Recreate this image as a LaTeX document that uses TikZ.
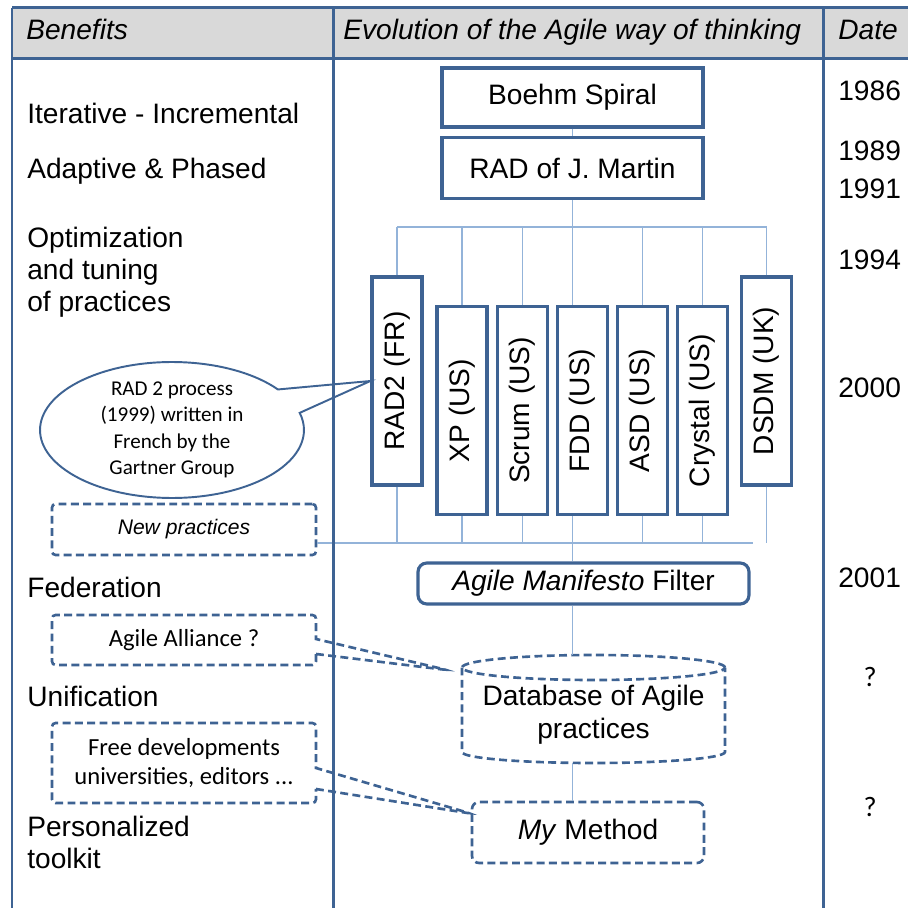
\documentclass[tikz,border=0pt]{standalone}
\usepackage{fontspec}
\setmainfont{Liberation Sans}
\newfontfamily\calibri{Carlito}
\usepackage{tikz}
\usetikzlibrary{positioning,shapes.geometric,shapes.misc,shapes.callouts}

\definecolor{frameblue}{HTML}{3E6393}
\definecolor{linkblue}{HTML}{93B3D9}
\definecolor{headgray}{HTML}{D9D9D9}

\newcommand{\bigsize}{\fontsize{16}{19}\selectfont}
\newcommand{\notesize}{\calibri\fontsize{14}{17}\selectfont}

\tikzset{
  frameline/.style={draw=frameblue, line width=1.7pt},
  solidbox/.style={draw=frameblue, line width=1.8pt, fill=white, inner sep=0pt, font=\bigsize},
  dashline/.style={draw=frameblue, line width=1.5pt, dash pattern=on 4.5pt off 2.5pt},
  dashbox/.style={dashline, fill=white, inner sep=0pt, align=center},
  link/.style={draw=linkblue, line width=1.1pt},
  heading/.style={anchor=base west, inner sep=0pt, font=\bigsize\itshape},
  benefit/.style={anchor=west, inner sep=0pt, align=left, font=\fontsize{16}{18.2}\selectfont},
  year/.style={anchor=west, inner sep=0pt, font=\bigsize},
}

\begin{document}
\begin{tikzpicture}[x=0.02cm, y=-0.02cm]
\useasboundingbox (0,0) rectangle (908,908);
% header row
\fill[headgray] (12,8) rectangle (915,58);
\node[heading] (hbenefits) at (26,40) {Benefits};
\node[heading] (hevolution) at (343,40) {Evolution of the Agile way of thinking};
\node[heading] (hdate) at (838,40) {Date};

% benefits
\node[benefit] (iterative) at (27,113) {Iterative - Incremental};
\node[benefit] (adaptive) at (27,171) {Adaptive \& Phased};
\node[benefit] (tuning) at (27,272) {Optimization\\and tuning\\of practices};
\node[benefit] (federation) at (27,587) {Federation};
\node[benefit] (unification) at (27,696) {Unification};
\node[benefit] (toolkit) at (27,842) {Personalized\\toolkit};

% dates
\node[year] (d1986) at (838,91) {1986};
\node[year] (d1989) at (838,151) {1989};
\node[year] (d1991) at (838,189) {1991};
\node[year] (d1994) at (838,260) {1994};
\node[year] (d2000) at (838,388) {2000};
\node[year] (d2001) at (838,578) {2001};
\node[font=\calibri\fontsize{16}{19}\selectfont] (dunif) at (870,677) {?};
\node[font=\calibri\fontsize{16}{19}\selectfont] (dperso) at (870,807) {?};

% methods
\node[solidbox, minimum width=5.22cm, minimum height=1.18cm] (boehm) at (572.5,97.5) {Boehm Spiral};
\node[solidbox, minimum width=5.22cm, minimum height=1.22cm] (rad) at (572.5,168) {RAD of J. Martin};
\node[solidbox, minimum width=1cm, minimum height=4.16cm] (rad2) at (397,381) {\rotatebox{90}{RAD2 (FR)}};
\node[solidbox, minimum width=1cm, minimum height=4.16cm] (xp) at (462,410.5) {\rotatebox{90}{XP (US)}};
\node[solidbox, minimum width=1cm, minimum height=4.16cm] (scrum) at (522.5,410.5) {\rotatebox{90}{Scrum (US)}};
\node[solidbox, minimum width=1cm, minimum height=4.16cm] (fdd) at (582.5,410.5) {\rotatebox{90}{FDD (US)}};
\node[solidbox, minimum width=1cm, minimum height=4.16cm] (asd) at (642.5,410.5) {\rotatebox{90}{ASD (US)}};
\node[solidbox, minimum width=1cm, minimum height=4.16cm] (crystal) at (702.5,410.5) {\rotatebox{90}{Crystal (US)}};
\node[solidbox, minimum width=1cm, minimum height=4.16cm] (dsdm) at (766.5,381) {\rotatebox{90}{DSDM (UK)}};

\node[solidbox, rounded corners=5pt, minimum width=6.62cm, minimum height=0.82cm] (manifesto) at (583.5,583.5) {\textit{Agile Manifesto} Filter};

% database drum
\coordinate (dbtop) at (593.5,655);
\coordinate (dbbottom) at (593.5,763);
\coordinate (dbrim) at ([xshift=-2.63cm,yshift=-0.25cm]dbtop);
\draw[dashline, fill=white] ([yshift=-0.25cm]dbtop) ellipse [x radius=2.63cm, y radius=0.25cm];
\draw[dashline] (dbrim) -- ([xshift=-2.63cm,yshift=0.22cm]dbbottom)
  arc[start angle=180, end angle=360, x radius=2.63cm, y radius=0.22cm]
  -- ([xshift=2.63cm,yshift=-0.25cm]dbtop);
\node[align=center, inner sep=0pt, font=\bigsize] (db) at (593.5,715) {Database of Agile\\practices};

\node[dashbox, rounded corners=4pt, minimum width=4.64cm, minimum height=1.22cm, font=\bigsize] (mymethod) at (588,832.5) {\textit{My} Method};

% notes on the left
\node[dashbox, rounded corners=2pt, minimum width=5.28cm, minimum height=1.02cm, font=\fontsize{12}{14}\selectfont\itshape] (newpractices) at (184,529.5) {New practices};
\node[ellipse callout, draw=frameblue, line width=1.1pt, fill=white, minimum width=5.28cm, minimum height=2.6cm, inner sep=0pt, align=center, font=\calibri\fontsize{12}{15}\selectfont, callout absolute pointer={(rad2.west)}, callout pointer arc=22] (rad2note) at (172,430) {RAD 2 process\\(1999) written in\\French by the\\Gartner Group};
\node[rectangle callout, dashbox, rounded corners=2pt, minimum width=5.28cm, minimum height=1cm, font=\notesize, callout absolute pointer={([xshift=-0.3cm,yshift=-0.05cm]dbrim)}, callout pointer width=0.3cm] (alliance) at (184,640) {Agile Alliance ?};
\node[rectangle callout, dashbox, rounded corners=2pt, minimum width=5.28cm, minimum height=1.6cm, font=\notesize, callout absolute pointer={([yshift=0.38cm]mymethod.west)}, callout pointer width=0.42cm] (freedev) at (184,763) {Free developments\\universities, editors ...};

% tree links
\coordinate (topbar) at (0,227);
\coordinate (lowbar) at (753,543);
\draw[link] (boehm) -- (rad);
\draw[link] (rad2.north |- topbar) -- (dsdm.north |- topbar);
\draw[link] (rad.south) -- (rad.south |- fdd.north);
\draw[link] (rad2.north) -- (rad2.north |- topbar);
\draw[link] (xp.north) -- (xp.north |- topbar);
\draw[link] (scrum.north) -- (scrum.north |- topbar);
\draw[link] (asd.north) -- (asd.north |- topbar);
\draw[link] (crystal.north) -- (crystal.north |- topbar);
\draw[link] (dsdm.north) -- (dsdm.north |- topbar);
\draw[link] (newpractices.east |- lowbar) -- (lowbar);
\draw[link] (rad2.south) -- (rad2.south |- lowbar);
\draw[link] (xp.south) -- (xp.south |- lowbar);
\draw[link] (scrum.south) -- (scrum.south |- lowbar);
\draw[link] (asd.south) -- (asd.south |- lowbar);
\draw[link] (crystal.south) -- (crystal.south |- lowbar);
\draw[link] (dsdm.south) -- (dsdm.south |- lowbar);
\draw[link] (rad.south |- fdd.south) -- (rad.south |- manifesto.north);
\draw[link] (rad.south |- manifesto.south) -- (rad.south |- dbtop);
\draw[link] (rad.south |- dbbottom) -- (rad.south |- mymethod.north);

% table frame
\draw[frameline] (12,8) -- (915,8);
\draw[frameline] (12,58.5) -- (915,58.5);
\draw[frameline] (12,8) -- (12,915);
\draw[frameline] (333,8) -- (333,915);
\draw[frameline] (823,8) -- (823,915);
\end{tikzpicture}
\end{document}
